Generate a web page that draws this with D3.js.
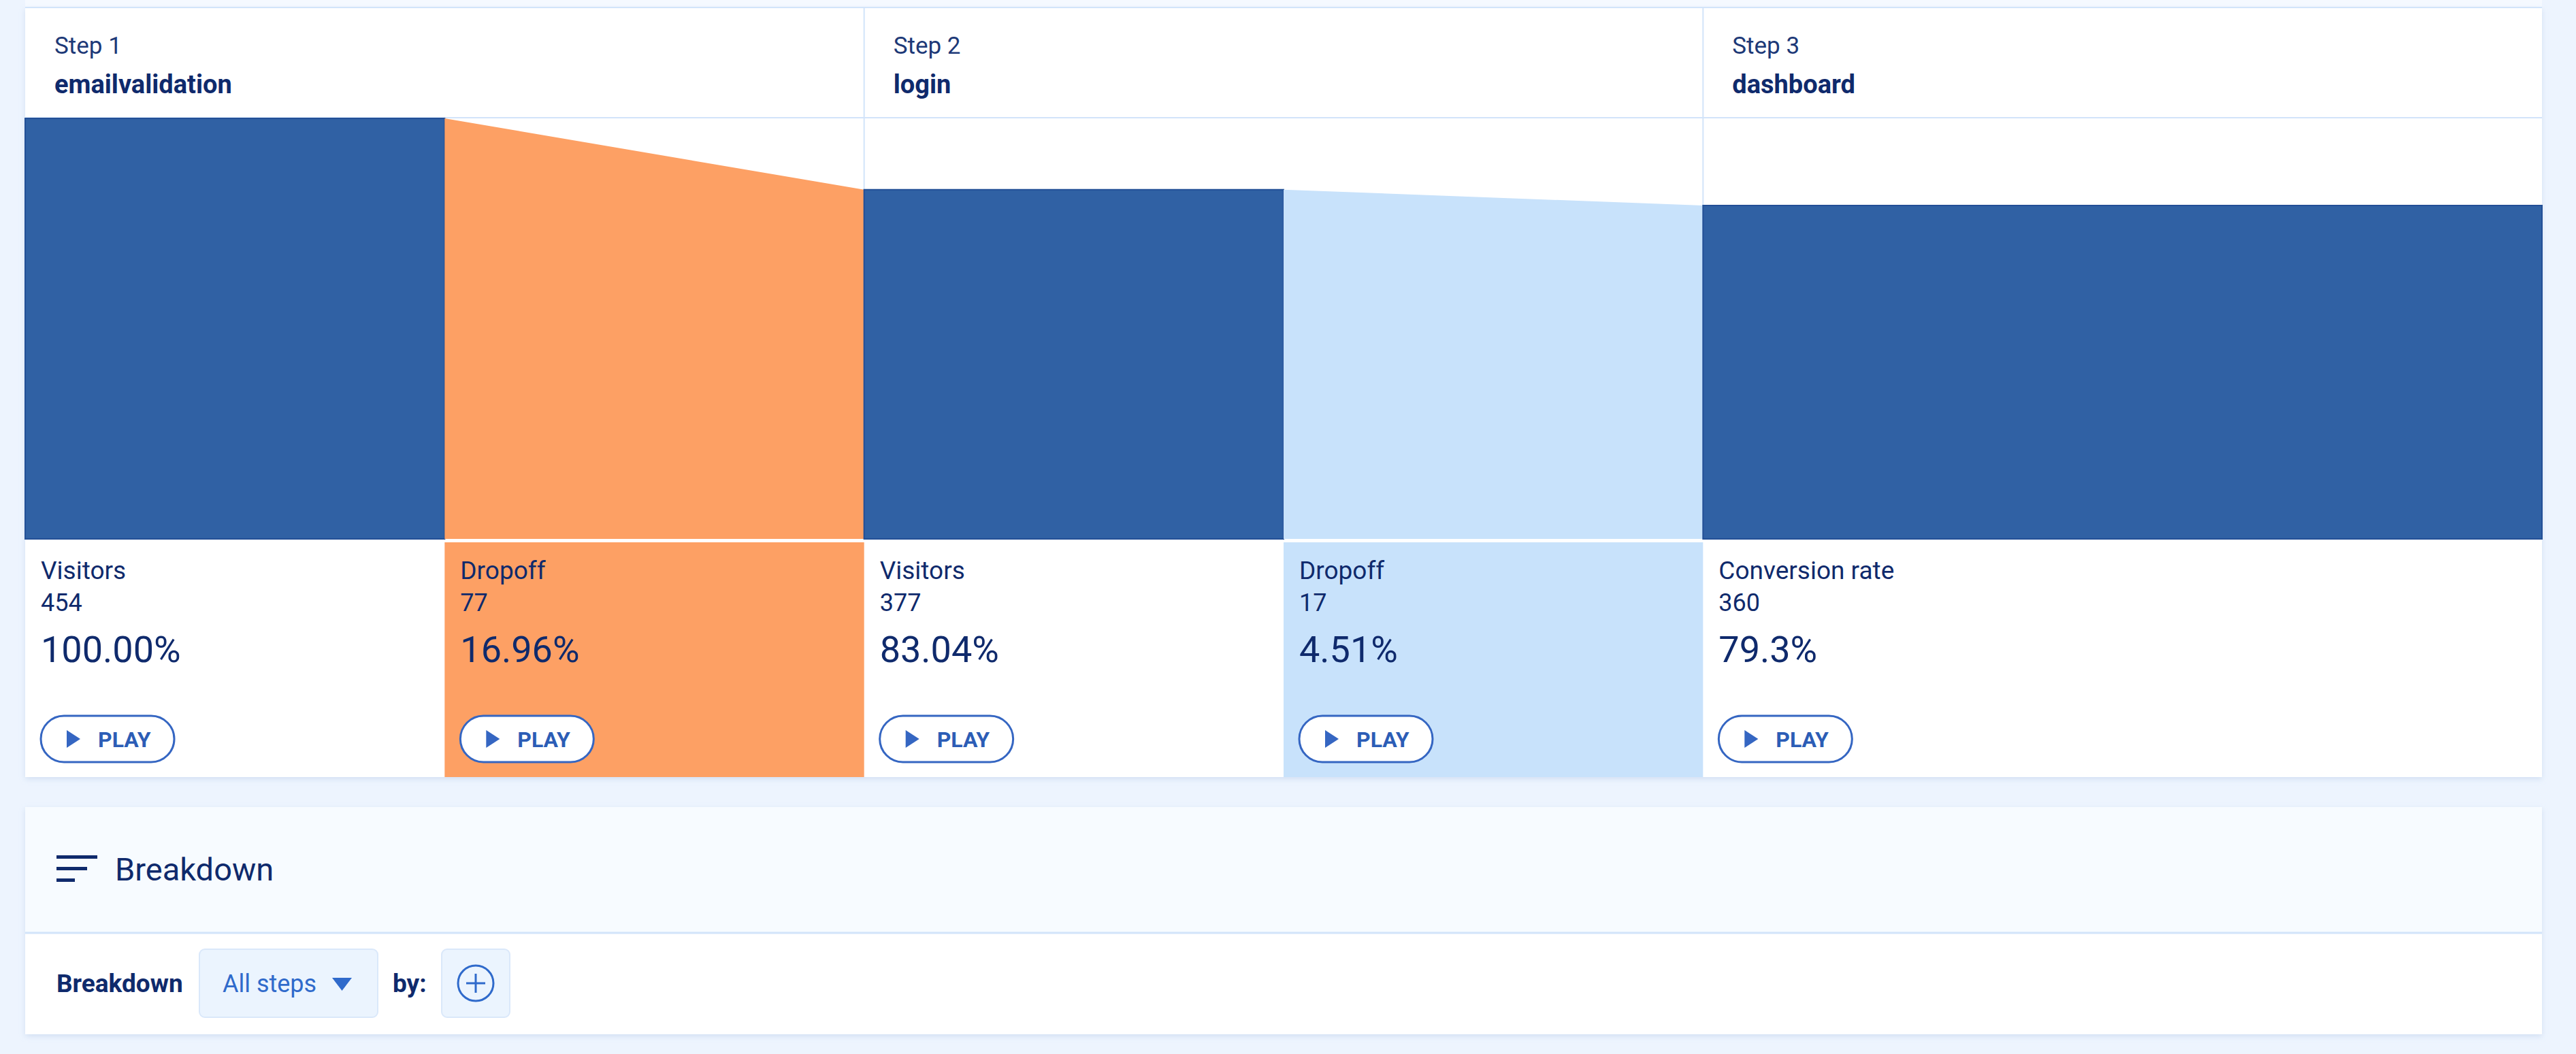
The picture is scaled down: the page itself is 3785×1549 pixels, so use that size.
<!DOCTYPE html>
<html>
<head>
<meta charset="utf-8">
<script src="https://cdn.jsdelivr.net/npm/d3@7"></script>
<style>
  html, body { margin: 0; padding: 0; background: #edf4fe; overflow: hidden; }
  svg { display: block; font-family: Roboto, "Noto Sans", sans-serif; }
</style>
</head>
<body>
<svg id="chart" width="3785" height="1549"></svg>
<script>
const stepLabels = ['Step 1', 'Step 2', 'Step 3'];
const stepNames = ['emailvalidation', 'login', 'dashboard'];
const visitors = [454, 377, 360];
const dropoffs = [77, 17];
const visitorPct = ['100.00%', '83.04%', '79.3%'];
const dropoffPct = ['16.96%', '4.51%'];
const cellLabels = ['Visitors', 'Visitors', 'Conversion rate'];

const navy = '#0f2a6c';
const barBlue = '#3061a4';
const btnBlue = '#3566c2';
const lineBlue = '#d2e4fa';
const dropColors = ['#fda064', '#c8e2fb'];

const cardL = 37, cardR = 3735;
const cardTop = 11, headBottom = 173, chartBottom = 792, infoTop = 797, cardBottom = 1142;

const svg = d3.select('#chart');
const defs = svg.append('defs');
const shadow = defs.append('filter').attr('id', 'shadow')
    .attr('x', '-5%').attr('y', '-5%').attr('width', '110%').attr('height', '115%');
shadow.append('feDropShadow')
    .attr('dx', 0).attr('dy', 3).attr('stdDeviation', 4)
    .attr('flood-color', '#9fb8dc').attr('flood-opacity', 0.35);

// half-column units: each step gets two, last step is all visitors
const x = d3.scaleLinear().domain([0, 6]).range([cardL, cardR]);
const y = d3.scaleLinear().domain([0, d3.max(visitors)]).range([chartBottom, headBottom + 1]);

const segments = [];
visitors.forEach((v, i) => {
    const last = i === visitors.length - 1;
    segments.push({
        kind: 'visitors', x0: 2 * i, x1: last ? 2 * i + 2 : 2 * i + 1,
        from: v, to: v, label: cellLabels[i], count: v, pct: visitorPct[i]
    });
    if (!last) {
        segments.push({
            kind: 'dropoff', x0: 2 * i + 1, x1: 2 * i + 2,
            from: v, to: visitors[i + 1], label: 'Dropoff', count: dropoffs[i],
            pct: dropoffPct[i], color: dropColors[i]
        });
    }
});

// strip of card above the view
svg.append('rect').attr('x', cardL).attr('y', 0).attr('width', cardR - cardL).attr('height', cardTop)
    .attr('fill', '#f5f9ff');

// main card
svg.append('rect').attr('x', cardL).attr('y', cardTop).attr('width', cardR - cardL)
    .attr('height', cardBottom - cardTop).attr('fill', '#fff').attr('filter', 'url(#shadow)');

svg.append('line').attr('x1', cardL).attr('x2', cardR).attr('y1', cardTop).attr('y2', cardTop)
    .attr('stroke', lineBlue).attr('stroke-width', 2);
svg.append('line').attr('x1', cardL).attr('x2', cardR).attr('y1', headBottom).attr('y2', headBottom)
    .attr('stroke', lineBlue).attr('stroke-width', 2);

[2, 4].forEach((d) => {
    svg.append('line').attr('x1', x(d)).attr('x2', x(d)).attr('y1', cardTop).attr('y2', chartBottom)
        .attr('stroke', lineBlue).attr('stroke-width', 2);
});

// step headers
const heads = svg.selectAll('g.head').data(stepLabels).enter().append('g')
    .attr('class', 'head')
    .attr('transform', (d, i) => `translate(${x(2 * i) + 43},0)`);
heads.append('text').attr('y', 79).attr('font-size', 35).attr('fill', '#1d3977').text((d) => d);
heads.append('text').attr('y', 137).attr('font-size', 38).attr('font-weight', 700).attr('fill', navy)
    .text((d, i) => stepNames[i]);

// bars and dropoff trapezoids
svg.selectAll('path.seg').data(segments).enter().append('path')
    .attr('class', 'seg')
    .attr('d', (d) => `M${x(d.x0)},${y(d.from)}L${x(d.x1)},${y(d.to)}L${x(d.x1)},${y(0)}L${x(d.x0)},${y(0)}Z`)
    .attr('fill', (d) => d.kind === 'visitors' ? barBlue : d.color)
    .attr('stroke', (d) => d.kind === 'visitors' ? '#234f96' : 'none')
    .attr('stroke-width', 2);

// info cells
const cells = svg.selectAll('g.cell').data(segments).enter().append('g')
    .attr('class', 'cell')
    .attr('transform', (d) => `translate(${x(d.x0)},0)`);

cells.filter((d) => d.kind === 'dropoff').append('rect')
    .attr('x', 0).attr('y', infoTop)
    .attr('width', (d) => x(d.x1) - x(d.x0)).attr('height', cardBottom - infoTop)
    .attr('fill', (d) => d.color);

cells.append('text').attr('x', 23).attr('y', 851).attr('font-size', 37).attr('fill', navy)
    .text((d) => d.label);
cells.append('text').attr('x', 23).attr('y', 898).attr('font-size', 36).attr('fill', navy)
    .text((d) => d.count);
cells.append('text').attr('x', 23).attr('y', 973).attr('font-size', 54).attr('fill', navy)
    .text((d) => d.pct);

const btn = cells.append('g').attr('transform', 'translate(23,1052)');
btn.append('rect').attr('width', 196).attr('height', 68).attr('rx', 34)
    .attr('fill', '#fff').attr('stroke', btnBlue).attr('stroke-width', 3);
btn.append('path').attr('d', 'M38,21L58,34L38,47Z').attr('fill', btnBlue);
btn.append('text').attr('x', 84).attr('y', 46).attr('font-size', 32).attr('font-weight', 700)
    .attr('fill', '#2c5db6').text('PLAY');

// breakdown card
const bTop = 1186, bMid = 1371, bBottom = 1520;
svg.append('rect').attr('x', cardL).attr('y', bTop).attr('width', cardR - cardL).attr('height', bBottom - bTop)
    .attr('fill', '#fff').attr('filter', 'url(#shadow)');
svg.append('rect').attr('x', cardL).attr('y', bTop).attr('width', cardR - cardL).attr('height', bMid - bTop)
    .attr('fill', '#f7fbff');
svg.append('line').attr('x1', cardL).attr('x2', cardR).attr('y1', bMid).attr('y2', bMid)
    .attr('stroke', lineBlue).attr('stroke-width', 3);

[60, 45, 27].forEach((w, i) => {
    svg.append('rect').attr('x', 83).attr('y', 1257 + i * 17).attr('width', w).attr('height', 5)
        .attr('fill', navy);
});
svg.append('text').attr('x', 169).attr('y', 1294).attr('font-size', 47).attr('fill', navy).text('Breakdown');

svg.append('text').attr('x', 83).attr('y', 1458).attr('font-size', 37).attr('font-weight', 700)
    .attr('fill', navy).text('Breakdown');
svg.append('rect').attr('x', 293).attr('y', 1395).attr('width', 262).attr('height', 100).attr('rx', 8)
    .attr('fill', '#ebf4fe').attr('stroke', '#dae8fa').attr('stroke-width', 2);
svg.append('text').attr('x', 327).attr('y', 1458).attr('font-size', 36).attr('fill', '#2f6acb').text('All steps');
svg.append('path').attr('d', 'M488,1437L517,1437L502.5,1456Z').attr('fill', '#2f6acb');
svg.append('text').attr('x', 577).attr('y', 1458).attr('font-size', 37).attr('font-weight', 700)
    .attr('fill', navy).text('by:');
svg.append('rect').attr('x', 649).attr('y', 1395).attr('width', 100).attr('height', 100).attr('rx', 8)
    .attr('fill', '#ebf4fe').attr('stroke', '#dae8fa').attr('stroke-width', 2);
svg.append('circle').attr('cx', 699).attr('cy', 1445).attr('r', 26)
    .attr('fill', 'none').attr('stroke', '#2f6acb').attr('stroke-width', 3);
svg.append('path').attr('d', 'M685,1445H713M699,1431V1459')
    .attr('stroke', '#2f6acb').attr('stroke-width', 3);
</script>
</body>
</html>
